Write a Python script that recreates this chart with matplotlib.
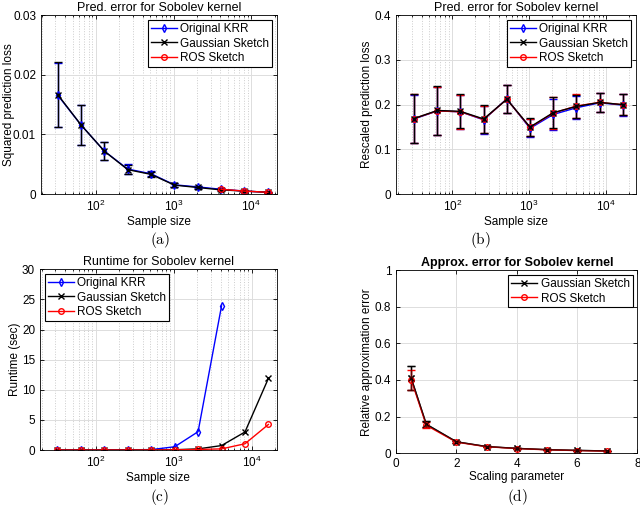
import numpy as np
import matplotlib.pyplot as plt
from matplotlib.lines import Line2D

plt.rcParams['font.family'] = ['Liberation Sans', 'DejaVu Sans']
plt.rcParams['mathtext.fontset'] = 'cm'

# sample sizes 2^5 ... 2^14
n = np.array([32, 64, 128, 256, 512, 1024, 2048, 4096, 8192, 16384])

# (a) squared prediction loss
sq_krr = [0.0166, 0.0116, 0.0072, 0.0042, 0.0034, 0.00155, 0.0012, 0.0008, 0.0005, 0.0003]
sq_gauss = [0.0167, 0.0116, 0.0072, 0.0041, 0.0033, 0.0015, 0.0011, 0.0007, 0.0005, 0.0003]
sq_ros = [0.0166, 0.0115, 0.0071, 0.0041, 0.0033, 0.0015, 0.0011, 0.0008, 0.0005, 0.0003]
sq_err = [0.0054, 0.0034, 0.0015, 0.0008, 0.0004, 0.0003, 0.0002, 0.00015, 0.0001, 0.0001]

# (b) rescaled prediction loss
rs_krr = [0.168, 0.186, 0.184, 0.166, 0.213, 0.147, 0.178, 0.193, 0.204, 0.199]
rs_gauss = [0.169, 0.187, 0.185, 0.168, 0.212, 0.150, 0.182, 0.196, 0.205, 0.200]
rs_ros = [0.169, 0.186, 0.184, 0.167, 0.212, 0.149, 0.181, 0.197, 0.205, 0.200]
rs_err = [0.054, 0.054, 0.038, 0.031, 0.031, 0.020, 0.035, 0.026, 0.021, 0.024]

# (c) runtime (sec)
n_krr = n[:8]
rt_krr = [0.05, 0.05, 0.05, 0.05, 0.08, 0.55, 3.05, 23.9]
rt_gauss = [0.02, 0.02, 0.02, 0.02, 0.03, 0.06, 0.2, 0.75, 3.0, 11.9]
rt_ros = [0.01, 0.01, 0.01, 0.01, 0.02, 0.04, 0.1, 0.2, 1.05, 4.25]

# (d) relative approximation error vs scaling parameter
scale = np.array([0.5, 1, 2, 3, 4, 5, 6, 7])
ap_gauss = [0.41, 0.158, 0.062, 0.036, 0.026, 0.019, 0.015, 0.012]
ap_gauss_err = [0.065, 0.015, 0.006, 0.004, 0.003, 0.002, 0.002, 0.001]
ap_ros = [0.40, 0.152, 0.060, 0.035, 0.025, 0.018, 0.014, 0.011]
ap_ros_err = [0.057, 0.016, 0.006, 0.004, 0.003, 0.002, 0.002, 0.001]

fs = 8.5
fig = plt.figure(figsize=(6.4, 5.08), dpi=100)

mk = dict(markersize=4, markerfacecolor='none', linewidth=1)
eb = dict(capsize=3, elinewidth=1, capthick=1)

h_krr = Line2D([], [], color='blue', marker='d', **mk)
h_gauss = Line2D([], [], color='black', marker='x', **mk)
h_ros = Line2D([], [], color='red', marker='o', **mk)


def style(ax, logx=True):
    ax.tick_params(direction='in', top=True, right=True, labelsize=fs,
                   length=3, width=0.6, which='both')
    ax.tick_params(which='minor', length=1.5)
    for s in ax.spines.values():
        s.set_linewidth(0.6)
    ax.grid(True, which='major', color='#dddddd', linewidth=0.7)
    if logx:
        ax.grid(True, which='minor', axis='x', color='#cccccc', linestyle=':', linewidth=0.7)
    ax.set_axisbelow(True)


def legend(ax, handles, labels, loc):
    leg = ax.legend(handles, labels, loc=loc, fontsize=fs, frameon=True, fancybox=False,
                    framealpha=1, edgecolor='black', handlelength=2.2, borderpad=0.25,
                    labelspacing=0.22, handletextpad=0.3, borderaxespad=0.4)
    leg.get_frame().set_linewidth(0.8)


def labels(ax, xl, yl, title, ylx, bold=False):
    ax.set_xlabel(xl, fontsize=fs, labelpad=1)
    ax.set_ylabel(yl, fontsize=fs)
    ax.yaxis.set_label_coords(ylx, 0.5)
    ax.set_title(title, fontsize=9, pad=3, fontweight='bold' if bold else 'normal')


# (a)
ax = fig.add_axes([0.064, 0.618, 0.369, 0.352])
ax.errorbar(n, sq_krr, yerr=sq_err, color='blue', marker='d', **mk, **eb)
ax.errorbar(n, sq_gauss, yerr=sq_err, color='black', marker='x', **mk, **eb)
ax.errorbar(n[-3:], sq_ros[-3:], yerr=sq_err[-3:], color='red', marker='o', **mk, **eb)
ax.set_xscale('log')
ax.set_xlim(19.5, 21600)
ax.set_ylim(0, 0.03)
ax.set_yticks([0, 0.01, 0.02, 0.03])
ax.set_yticklabels(['0', '0.01', '0.02', '0.03'])
labels(ax, 'Sample size', 'Squared prediction loss', 'Pred. error for Sobolev kernel', -0.11)
style(ax)
legend(ax, [h_krr, h_gauss, h_ros], ['Original KRR', 'Gaussian Sketch', 'ROS Sketch'], 'upper right')

# (b)
ax = fig.add_axes([0.619, 0.618, 0.375, 0.352])
ax.errorbar(n, rs_krr, yerr=rs_err, color='blue', marker='d', **mk, **eb)
ax.errorbar(n, rs_ros, yerr=rs_err, color='red', marker='o', **mk, **eb)
ax.errorbar(n, rs_gauss, yerr=rs_err, color='black', marker='x', **mk, **eb)
ax.set_xscale('log')
ax.set_xlim(18.7, 24500)
ax.set_ylim(0, 0.4)
ax.set_yticks([0, 0.1, 0.2, 0.3, 0.4])
ax.set_yticklabels(['0', '0.1', '0.2', '0.3', '0.4'])
labels(ax, 'Sample size', 'Rescaled prediction loss', 'Pred. error for Sobolev kernel', -0.096)
style(ax)
legend(ax, [h_krr, h_gauss, h_ros], ['Original KRR', 'Gaussian Sketch', 'ROS Sketch'], 'upper right')

# (c)
ax = fig.add_axes([0.0625, 0.114, 0.370, 0.356])
ax.plot(n_krr, rt_krr, color='blue', marker='d', **mk)
ax.plot(n, rt_gauss, color='black', marker='x', **mk)
ax.plot(n, rt_ros, color='red', marker='o', **mk)
ax.set_xscale('log')
ax.set_xlim(19.1, 21000)
ax.set_ylim(0, 30)
labels(ax, 'Sample size', 'Runtime (sec)', 'Runtime for Sobolev kernel', -0.08)
style(ax)
legend(ax, [h_krr, h_gauss, h_ros], ['Original KRR', 'Gaussian Sketch', 'ROS Sketch'], 'upper left')

# (d)
ax = fig.add_axes([0.619, 0.108, 0.377, 0.360])
ax.errorbar(scale, ap_gauss, yerr=ap_gauss_err, color='black', marker='x', **mk, **eb)
ax.errorbar(scale, ap_ros, yerr=ap_ros_err, color='red', marker='o', **mk, **eb)
ax.errorbar(scale, ap_gauss, yerr=ap_gauss_err, color='black', marker='x', alpha=0.6, **mk, **eb)
ax.set_xlim(0, 8)
ax.set_ylim(0, 1)
ax.set_yticks([0, 0.2, 0.4, 0.6, 0.8, 1])
ax.set_yticklabels(['0', '0.2', '0.4', '0.6', '0.8', '1'])
labels(ax, 'Scaling parameter', 'Relative approximation error', 'Approx. error for Sobolev kernel',
       -0.095, bold=True)
style(ax, logx=False)
legend(ax, [h_gauss, h_ros], ['Gaussian Sketch', 'ROS Sketch'], 'upper right')

for x, y, s in [(160, 240, 'a'), (480, 240, 'b'), (160, 497, 'c'), (517, 497, 'd')]:
    fig.text(x / 640, 1 - y / 508, r'$\mathrm{(%s)}$' % s, ha='center', va='center', fontsize=11)

fig.savefig('out.png', dpi=100)
